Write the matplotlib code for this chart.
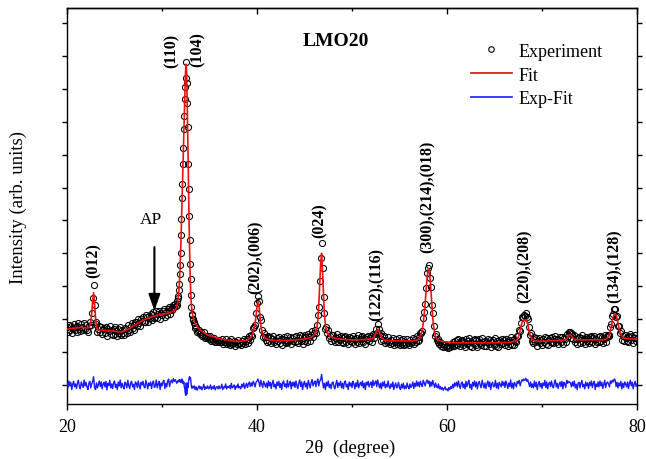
import numpy as np
import matplotlib
matplotlib.use("Agg")
import matplotlib.pyplot as plt
from matplotlib.lines import Line2D

plt.rcParams['font.family'] = ['Liberation Serif', 'DejaVu Serif']

# 2θ scan positions (degree): 0.1° steps, 0.05° steps across the strongest reflection
two_theta = np.concatenate([np.arange(200, 315) / 10,
                            np.arange(630, 670) / 20,
                            np.arange(335, 801) / 10])

# Refined profile (Fit), intensity in hundredths of one tick unit
fit_centi = [
    170, 170, 171, 171, 172, 172, 172, 173, 173, 173,   # 20
    173, 174, 174, 174, 175, 175, 175, 174, 174, 174,   # 21
    173, 173, 174, 175, 180, 192, 215, 255, 280, 250,   # 22
    205, 180, 170, 167, 167, 166, 166, 166, 166, 166,   # 23
    165, 165, 165, 165, 165, 165, 164, 164, 164, 164,   # 24
    163, 163, 163, 162, 162, 161, 161, 161, 162, 163,   # 25
    164, 165, 166, 168, 169, 170, 172, 174, 176, 178,   # 26
    179, 181, 183, 185, 187, 188, 190, 191, 193, 195,   # 27
    196, 197, 199, 200, 202, 203, 204, 205, 206, 207,   # 28
    208, 209, 210, 210, 211, 212, 213, 213, 214, 214,   # 29
    215, 216, 216, 217, 217, 218, 218, 219, 220, 221,   # 30
    222, 223, 225, 227, 229,                            # 31.0-31.4
    233, 238, 244, 252, 262, 276, 295, 320, 352, 392,   # 31.50-31.95
    440, 495, 550, 605, 660, 715, 770, 825, 880, 930,   # 32.00-32.45
    965, 975, 945, 870, 780, 680, 585, 495, 415, 350,   # 32.50-32.95
    300, 265, 242, 227, 217, 209, 203, 198, 194, 190,   # 33.00-33.45
    187, 182, 178, 174, 171,                            # 33.5-33.9
    168, 165, 163, 161, 159, 157, 155, 154, 152, 151,   # 34
    150, 149, 148, 147, 146, 146, 145, 144, 143, 142,   # 35
    141, 141, 140, 139, 139, 138, 138, 137, 137, 136,   # 36
    135, 135, 134, 134, 134, 133, 133, 133, 133, 133,   # 37
    133, 133, 133, 133, 133, 134, 134, 134, 135, 136,   # 38
    136, 138, 140, 143, 147, 153, 161, 172, 188, 210,   # 39
    238, 253, 245, 212, 182, 164, 154, 148, 144, 142,   # 40
    140, 139, 138, 138, 137, 137, 136, 136, 136, 135,   # 41
    135, 135, 135, 135, 135, 135, 135, 135, 135, 135,   # 42
    135, 135, 135, 135, 135, 136, 136, 136, 136, 137,   # 43
    137, 137, 137, 138, 138, 138, 138, 139, 139, 139,   # 44
    140, 140, 141, 141, 142, 143, 144, 145, 147, 149,   # 45
    152, 156, 162, 174, 195, 240, 305, 370, 400, 345,   # 46
    275, 215, 183, 168, 160, 155, 151, 148, 146, 145,   # 47
    143, 142, 142, 141, 141, 140, 140, 140, 139, 139,   # 48
    139, 139, 138, 138, 138, 138, 138, 137, 137, 137,   # 49
    137, 137, 137, 137, 137, 137, 137, 137, 137, 138,   # 50
    138, 138, 138, 138, 138, 138, 139, 139, 139, 139,   # 51
    140, 140, 142, 145, 150, 157, 164, 169, 167, 160,   # 52
    152, 145, 141, 139, 137, 136, 136, 135, 135, 135,   # 53
    134, 134, 134, 134, 134, 134, 134, 134, 134, 134,   # 54
    134, 134, 134, 134, 134, 134, 134, 134, 134, 134,   # 55
    134, 134, 134, 134, 134, 135, 135, 135, 136, 137,   # 56
    139, 142, 147, 155, 168, 188, 215, 248, 287, 325,   # 57
    350, 353, 330, 290, 245, 205, 176, 158, 148, 142,   # 58
    138, 136, 135, 134, 133, 132, 132, 131, 131, 131,   # 59
    130, 130, 130, 129, 129, 129, 129, 128, 128, 128,   # 60
    128, 128, 128, 128, 128, 128, 128, 128, 128, 128,   # 61
    128, 128, 128, 128, 128, 128, 128, 128, 128, 128,   # 62
    128, 128, 128, 128, 128, 128, 128, 128, 128, 128,   # 63
    128, 128, 128, 128, 128, 128, 128, 128, 128, 128,   # 64
    128, 128, 128, 128, 128, 129, 129, 129, 129, 129,   # 65
    129, 129, 129, 129, 129, 130, 130, 130, 131, 131,   # 66
    132, 132, 133, 135, 138, 145, 154, 166, 180, 190,   # 67
    195, 196, 197, 198, 195, 185, 170, 157, 148, 142,   # 68
    138, 136, 135, 134, 134, 133, 133, 133, 133, 133,   # 69
    133, 133, 133, 133, 133, 133, 134, 134, 134, 134,   # 70
    134, 134, 135, 135, 135, 135, 135, 135, 136, 136,   # 71
    136, 136, 136, 136, 137, 138, 140, 144, 149, 152,   # 72
    152, 149, 145, 142, 140, 139, 138, 138, 137, 137,   # 73
    137, 137, 137, 137, 137, 137, 137, 137, 137, 137,   # 74
    137, 137, 137, 137, 137, 137, 137, 137, 137, 137,   # 75
    137, 137, 137, 137, 137, 137, 138, 138, 140, 143,   # 76
    148, 155, 165, 180, 195, 207, 214, 216, 213, 203,   # 77
    188, 173, 162, 154, 149, 145, 143, 142, 141, 141,   # 78
    140, 140, 140, 140, 140, 140, 140, 140, 140, 140,   # 79
    140,                                                # 80.0
]

# Difference curve (Exp-Fit), hundredths of one tick unit
diff_centi = [
    5, -9, 12, -3, 8, -14, 2, 11, -6, 3,          # 20
    -11, 6, 14, -5, -12, 9, 0, -8, 15, -3,        # 21
    8, -6, -14, 5, 11, -9, 3, 10, 25, -8,         # 22
    -14, 6, -9, 2, 12, -5, 9, -12, 3, 8,          # 23
    -6, 11, -15, 5, -2, 14, -9, 3, -11, 6,        # 24
    12, -8, 2, -14, 9, -3, 15, -9, 5, -5,         # 25
    -12, 8, 3, -9, 14, -2, -11, 6, 11, -6,        # 26
    2, -14, 9, 5, -8, 12, -3, -12, 8, 0,          # 27
    11, -5, -9, 14, 3, -12, 6, -2, 9, -11,        # 28
    5, 12, -8, -3, 15, -9, 2, 11, -14, 6,         # 29
    -3, 9, 14, -11, 5, -6, 12, 18, -5, 9,         # 30
    15, 6, 19, 11, 16,                            # 31.0-31.4
    8, 5, 10, 12, 9, 14, 11, 16, 12, 8,           # 31.50-31.95
    15, 10, 18, 6, 12, 4, 9, -6, -12, -25,        # 32.00-32.45
    -32, 6, -28, -14, 5, -8, 12, 20, 25, 18,      # 32.50-32.95
    22, 8, -6, -10, -4, -8, -5, -9, -3, -7,       # 33.00-33.45
    -14, -6, -16, -9, -3,                         # 33.5-33.9
    -12, -5, -15, -8, 2, -14, -6, -11, -3, -12,   # 34
    -9, 0, -14, -6, -11, -2, -15, -8, -5, -12,    # 35
    -3, -11, -8, 2, -14, -6, -9, 3, -12, -5,      # 36
    -8, -2, -12, 5, -9, -6, 0, -14, -3, -8,       # 37
    3, -9, -5, -12, 2, -6, 6, -11, -2, 5,         # 38
    -8, 3, 9, -5, 6, -3, 11, 5, -6, 8,            # 39
    12, 18, 9, -5, 14, 3, -8, 11, 2, -6,          # 40
    6, -9, 12, -3, 8, -11, 5, 14, -6, 2,          # 41
    -12, 9, -2, 11, -8, 5, -14, 6, 12, -5,        # 42
    3, -9, 14, -6, 2, 11, -12, 8, -3, 9,          # 43
    -8, 12, -2, -11, 6, 15, -5, 9, -14, 3,        # 44
    11, -6, 5, -12, 14, 2, -9, 8, 16, -3,         # 45
    6, 12, -5, 9, 18, -3, 11, 15, 32, 9,          # 46
    -9, 5, -14, 8, -3, 12, -8, 2, -11, 6,         # 47
    9, -5, -12, 3, 14, -8, 6, -2, 11, -9,         # 48
    5, -11, 8, 12, -6, 2, -14, 9, -3, 6,          # 49
    -8, 11, 3, -12, 6, -5, 14, -9, 2, 8,          # 50
    -3, 12, -9, 5, -14, 8, 0, 11, -6, 3,          # 51
    9, -8, 14, -2, 6, 12, -5, 15, 3, -9,          # 52
    5, -12, 8, -3, 11, -9, 2, -6, 12, -5,         # 53
    -11, 3, -6, 9, -14, -2, 6, -9, -3, 8,         # 54
    -8, -14, 2, -9, 5, -12, -3, -11, 6, -6,       # 55
    -12, 3, -8, -2, 9, -11, 5, -5, 12, -3,        # 56
    8, -6, 11, 2, -5, 14, 6, -3, 9, 15,           # 57
    5, 12, -6, 9, -3, 14, 2, -8, 6, -5,           # 58
    -9, 3, -12, -5, -14, -8, -16, -11, -6, -15,   # 59
    -12, -18, -8, -14, -5, -11, 2, -9, 6, -3,     # 60
    8, -6, 12, -2, -11, 5, 9, -8, 3, -12,         # 61
    11, -5, 6, 14, -9, 2, -14, 8, -3, 12,         # 62
    -6, 9, -12, 5, 11, -2, -8, 14, 3, -9,         # 63
    6, -11, 2, 12, -5, 9, -14, 3, 8, -6,          # 64
    -3, 14, -9, 5, -12, 8, 2, -6, 11, -2,         # 65
    9, -8, 12, 3, -11, 6, -5, 15, -9, 5,          # 66
    -12, 8, 2, -6, 11, 5, 14, -3, 9, 16,          # 67
    12, 18, 14, 20, 11, 16, 6, -5, 9, -8,         # 68
    3, -9, 12, -5, 8, -14, 2, 11, -6, 5,          # 69
    -11, 6, -2, 14, -8, 9, -12, 3, 8, -5,         # 70
    12, -3, -9, 6, 15, -6, 5, -11, 2, 9,          # 71
    -5, 11, -12, 8, 3, -8, 14, 5, 11, 8,          # 72
    6, -6, 9, -3, 12, -9, 2, -14, 5, 8,           # 73
    -9, 5, 14, -6, 2, -12, 9, -3, 6, -11,         # 74
    8, -2, 12, -8, 5, 11, -14, 3, -5, 9,          # 75
    -6, 12, -3, 8, -11, 2, 14, -8, 5, 9,          # 76
    3, -6, 12, 5, 14, 9, 18, 15, -5, 8,           # 77
    -9, 6, -3, 11, -12, 5, -8, 9, 2, -6,          # 78
    9, -11, 5, 14, -3, 8, -12, 2, 11, -5,         # 79
    3,                                            # 80.0
]

# Miller indices of the indexed reflections
hkl_labels = ['(012)', '(110)', '(104)', '(202),(006)', '(024)',
              '(122),(116)', '(300),(214),(018)', '(220),(208)', '(134),(128)']

fit = np.array(fit_centi) / 100.0
exp_fit = np.array(diff_centi) / 100.0
experiment = fit + exp_fit

fig = plt.figure(figsize=(6.46, 4.60), dpi=100)
ax = fig.add_axes([67 / 646, 1 - 405 / 460, 570 / 646, 396 / 460])

ax.plot(two_theta, experiment, ls='none', marker='o', ms=4.4,
        mfc='none', mec='black', mew=0.75, zorder=2)
ax.plot(two_theta, fit, color='#ee1111', lw=1.2, zorder=3)
ax.plot(two_theta, exp_fit, color='#1a1aff', lw=1.0, zorder=3)

ax.set_xlim(20, 80)
ax.set_ylim(-0.58, 11.46)
ax.set_xticks([20, 40, 60, 80])
ax.set_xticks([30, 50, 70], minor=True)
ax.set_yticks(range(0, 12))
ax.tick_params(axis='x', which='major', direction='out', length=4, width=1,
               labelsize=13, pad=6)
ax.tick_params(axis='x', which='minor', direction='out', length=2.5, width=1)
ax.tick_params(axis='y', which='major', direction='out', length=3.5, width=1,
               left=True, right=True, labelleft=False)
for sp in ax.spines.values():
    sp.set_linewidth(1.0)

top = ax.secondary_xaxis('top')
top.set_xticks([20, 40, 60, 80])
top.set_xticks([30, 50, 70], minor=True)
top.tick_params(which='major', direction='in', length=4, width=1, labeltop=False)
top.tick_params(which='minor', direction='in', length=2.5, width=1)
top.spines['top'].set_linewidth(1.0)

ax.set_xlabel('2\u03b8  (degree)', fontsize=13.5)
ax.xaxis.set_label_coords(0.497, -0.088)
ax.xaxis.label.set_va('top')
ax.set_ylabel('Intensity (arb. units)', fontsize=13.5)
ax.yaxis.set_label_coords(-0.07, 0.5)

# Reflection labels, rotated and set just above each peak
label_pos = [(22.82, 3.28), (30.97, 9.67), (33.77, 9.70), (39.9, 2.80), (46.58, 4.50),
             (52.57, 1.98), (57.95, 4.04), (68.2, 2.52), (77.63, 2.52)]
for text, (xp, yp) in zip(hkl_labels, label_pos):
    ax.text(xp, yp, text, rotation=90, ha='center', va='bottom',
            fontsize=11.5, fontweight='bold')

ax.text(28.85, 5.05, 'AP', ha='center', va='center', fontsize=12.5)
ax.annotate('', xy=(29.2, 2.25), xytext=(29.2, 4.19),
            arrowprops=dict(arrowstyle='-|>,head_length=1.0,head_width=0.35',
                            mutation_scale=10, lw=1.5, color='black',
                            shrinkA=0, shrinkB=0))

ax.text(0.472, 0.919, 'LMO20', transform=ax.transAxes, ha='center', va='center',
        fontsize=14, fontweight='bold')

handles = [Line2D([], [], ls='none', marker='o', ms=4, mfc='none', mec='black', mew=0.8),
           Line2D([], [], color='#cc1111', lw=1.2),
           Line2D([], [], color='#1a1aff', lw=1.2)]
ax.legend(handles, ['Experiment', 'Fit', 'Exp-Fit'], loc='center',
          bbox_to_anchor=(0.8237, 0.8308), frameon=False, fontsize=13,
          handlelength=2.3, handletextpad=0.35, labelspacing=0.38,
          borderpad=0, borderaxespad=0)

fig.savefig('out.png', dpi=100)
